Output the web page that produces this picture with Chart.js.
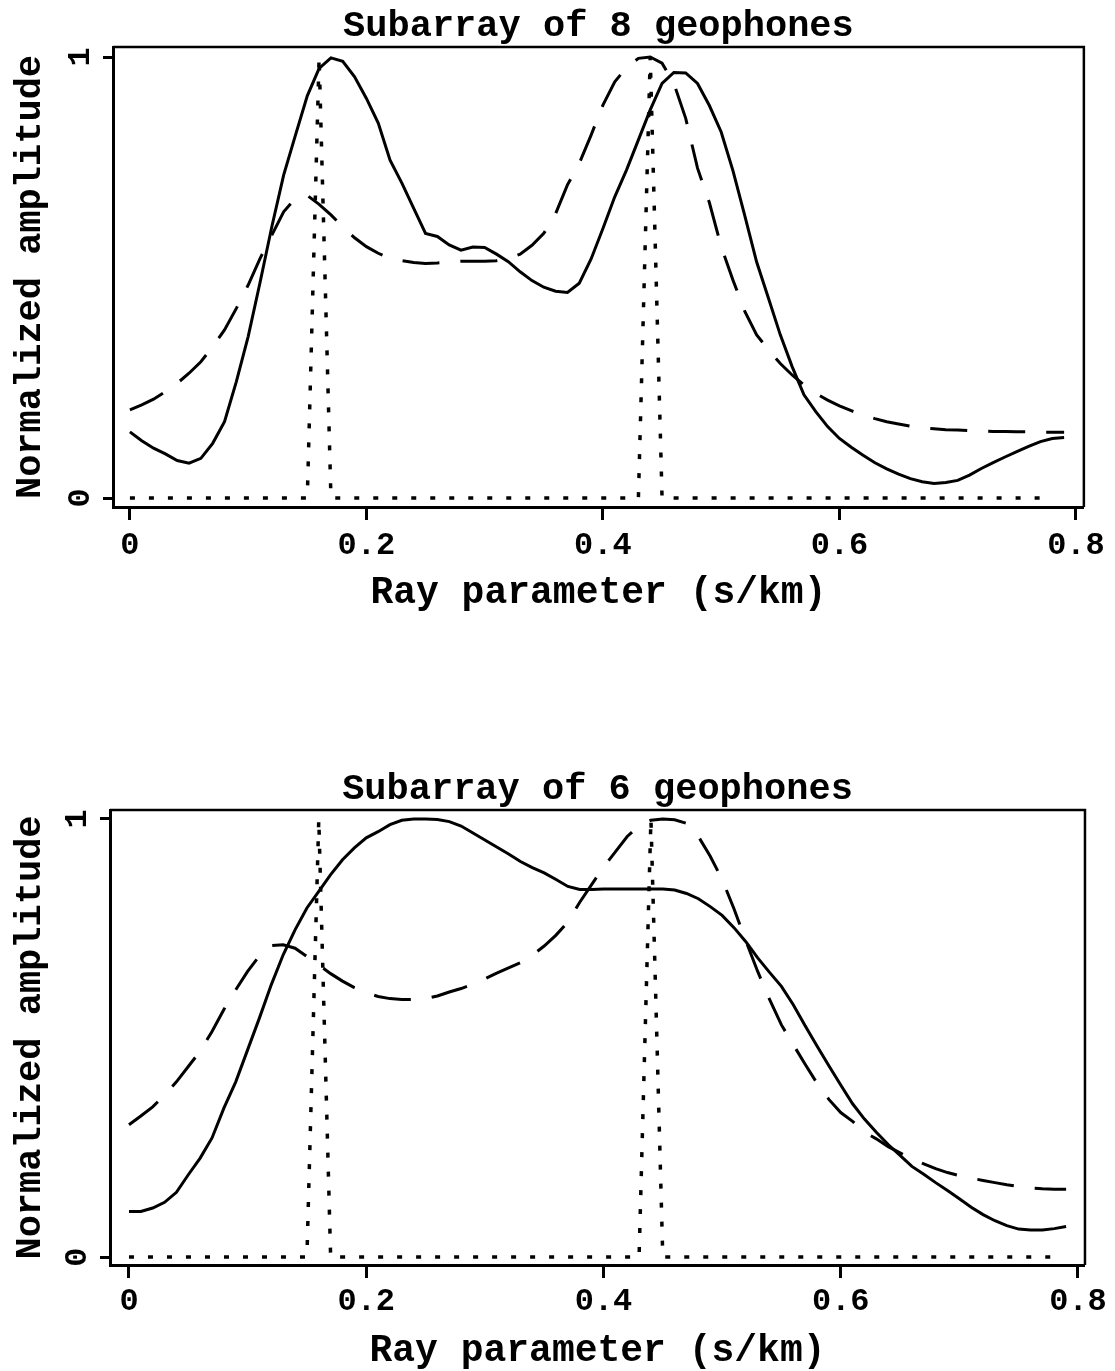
<!DOCTYPE html>
<html>
<head>
<meta charset="utf-8">
<title>Subarray beam response</title>
<script src="https://cdn.jsdelivr.net/npm/chart.js@4.4.1/dist/chart.umd.min.js"></script>
<style>
  html, body { margin: 0; padding: 0; background: #fff; overflow: hidden; }
  body { width: 1115px; height: 1371px; position: relative; }
  canvas { position: absolute; left: 0; }
</style>
</head>
<body>
<canvas id="chart8" width="1115" height="620" style="top:0px"></canvas>
<canvas id="chart6" width="1115" height="608" style="top:763px"></canvas>
<script>
// ray parameter samples (s/km)
const rayParam = [
  0.00, 0.01, 0.02, 0.03, 0.04, 0.05, 0.06, 0.07, 0.08, 0.09,
  0.10, 0.11, 0.12, 0.13, 0.14, 0.15, 0.16, 0.17, 0.18, 0.19,
  0.20, 0.21, 0.22, 0.23, 0.24, 0.25, 0.26, 0.27, 0.28, 0.29,
  0.30, 0.31, 0.32, 0.33, 0.34, 0.35, 0.36, 0.37, 0.38, 0.39,
  0.40, 0.41, 0.42, 0.43, 0.44, 0.45, 0.46, 0.47, 0.48, 0.49,
  0.50, 0.51, 0.52, 0.53, 0.54, 0.55, 0.56, 0.57, 0.58, 0.59,
  0.60, 0.61, 0.62, 0.63, 0.64, 0.65, 0.66, 0.67, 0.68, 0.69,
  0.70, 0.71, 0.72, 0.73, 0.74, 0.75, 0.76, 0.77, 0.78, 0.79
];

// subarray of 8 geophones
const amp8Solid = [
  0.150, 0.130, 0.113, 0.100, 0.085, 0.079, 0.090, 0.124, 0.173, 0.264,
  0.366, 0.488, 0.615, 0.732, 0.823, 0.912, 0.974, 0.998, 0.990, 0.955,
  0.906, 0.850, 0.766, 0.714, 0.657, 0.600, 0.593, 0.574, 0.562, 0.569,
  0.568, 0.553, 0.536, 0.513, 0.493, 0.478, 0.469, 0.466, 0.487, 0.542,
  0.611, 0.683, 0.744, 0.812, 0.880, 0.940, 0.965, 0.964, 0.940, 0.890,
  0.830, 0.742, 0.640, 0.535, 0.453, 0.370, 0.298, 0.234, 0.196, 0.162,
  0.135, 0.115, 0.097, 0.080, 0.066, 0.054, 0.044, 0.037, 0.033, 0.035,
  0.040, 0.052, 0.067, 0.080, 0.093, 0.105, 0.117, 0.128, 0.135, 0.137
];
const amp8Dashed = [
  0.200, 0.211, 0.224, 0.241, 0.260, 0.283, 0.309, 0.343, 0.381, 0.430,
  0.483, 0.543, 0.596, 0.649, 0.680, 0.686, 0.666, 0.642, 0.615, 0.590,
  0.570, 0.555, 0.543, 0.538, 0.534, 0.532, 0.533, 0.535, 0.537, 0.537,
  0.537, 0.538, 0.543, 0.553, 0.573, 0.600, 0.645, 0.710, 0.759, 0.823,
  0.891, 0.944, 0.976, 0.997, 1.000, 0.986, 0.940, 0.861, 0.748, 0.670,
  0.570, 0.494, 0.423, 0.370, 0.336, 0.305, 0.279, 0.256, 0.237, 0.222,
  0.209, 0.198, 0.188, 0.180, 0.173, 0.168, 0.163, 0.159, 0.157, 0.155,
  0.154, 0.153, 0.152, 0.151, 0.151, 0.150, 0.150, 0.149, 0.149, 0.149
];

// subarray of 6 geophones
const amp6Solid = [
  0.104, 0.104, 0.112, 0.125, 0.148, 0.188, 0.226, 0.272, 0.340, 0.400,
  0.473, 0.546, 0.622, 0.690, 0.747, 0.797, 0.835, 0.873, 0.907, 0.934,
  0.957, 0.971, 0.987, 0.997, 1.000, 1.000, 0.999, 0.994, 0.984, 0.968,
  0.952, 0.936, 0.920, 0.903, 0.889, 0.877, 0.862, 0.846, 0.839, 0.839,
  0.840, 0.840, 0.840, 0.840, 0.840, 0.840, 0.838, 0.830, 0.818, 0.800,
  0.780, 0.752, 0.720, 0.683, 0.650, 0.618, 0.576, 0.528, 0.482, 0.437,
  0.393, 0.350, 0.315, 0.285, 0.257, 0.232, 0.207, 0.189, 0.170, 0.152,
  0.133, 0.114, 0.097, 0.083, 0.072, 0.064, 0.062, 0.062, 0.065, 0.070
];
const amp6Dashed = [
  0.302, 0.322, 0.343, 0.370, 0.400, 0.435, 0.470, 0.515, 0.565, 0.610,
  0.652, 0.688, 0.711, 0.713, 0.705, 0.686, 0.667, 0.647, 0.630, 0.615,
  0.603, 0.595, 0.590, 0.588, 0.588, 0.590, 0.596, 0.605, 0.613, 0.623,
  0.635, 0.648, 0.660, 0.672, 0.689, 0.710, 0.735, 0.765, 0.810, 0.850,
  0.890, 0.925, 0.960, 0.985, 0.997, 1.000, 0.998, 0.990, 0.960, 0.915,
  0.862, 0.795, 0.722, 0.652, 0.588, 0.530, 0.485, 0.440, 0.397, 0.360,
  0.330, 0.310, 0.285, 0.270, 0.252, 0.238, 0.224, 0.213, 0.202, 0.193,
  0.186, 0.180, 0.175, 0.170, 0.165, 0.161, 0.158, 0.156, 0.155, 0.155
];

// dotted reference (true slownesses), same in both panels
const spikeX = [0.00, 0.15, 0.16, 0.17, 0.43, 0.44, 0.45, 0.78];
const spikeY = [0, 0, 1, 0, 0, 1, 0, 0];

const xTicks = [0, 0.2, 0.4, 0.6, 0.8];
const xTickLabels = ['0', '0.2', '0.4', '0.6', '0.8'];
const yTicks = [0, 1];
const yTickLabels = ['0', '1'];
const xTitle = 'Ray parameter (s/km)';
const yTitle = 'Normalized amplitude';

const FONT = "'Liberation Mono', 'Courier New', monospace";

function toPoints(xs, ys) {
  return xs.map((x, i) => ({ x: x, y: ys[i] }));
}

// top/right frame lines + rotated y tick labels
const framePlugin = {
  id: 'frame',
  afterDraw(chart) {
    const { ctx, chartArea: a } = chart;
    const yScale = chart.scales.y;
    ctx.save();
    ctx.strokeStyle = '#000';
    ctx.lineWidth = 2.5;
    ctx.beginPath();
    ctx.moveTo(a.left, a.top);
    ctx.lineTo(a.right, a.top);
    ctx.lineTo(a.right, a.bottom);
    ctx.stroke();

    ctx.fillStyle = '#000';
    ctx.font = 'bold 32px ' + FONT;
    ctx.textAlign = 'center';
    ctx.textBaseline = 'middle';
    yTicks.forEach((v, i) => {
      ctx.save();
      ctx.translate(a.left - 32, yScale.getPixelForValue(v));
      ctx.rotate(-Math.PI / 2);
      ctx.fillText(yTickLabels[i], 0, 0);
      ctx.restore();
    });
    ctx.restore();
  }
};

function drawPanel(id, title, solid, dashed, box) {
  const canvas = document.getElementById(id);
  const H = canvas.height;

  return new Chart(canvas, {
    type: 'line',
    data: {
      datasets: [
        {
          data: toPoints(rayParam, solid),
          borderColor: '#000',
          borderWidth: 3,
          pointRadius: 0,
          tension: 0
        },
        {
          data: toPoints(rayParam, dashed),
          borderColor: '#000',
          borderWidth: 3,
          borderDash: [37, 21],
          pointRadius: 0,
          tension: 0
        },
        {
          data: toPoints(spikeX, spikeY),
          borderColor: '#000',
          borderWidth: 3.5,
          borderDash: [5, 14],
          pointRadius: 0,
          tension: 0
        }
      ]
    },
    options: {
      responsive: false,
      animation: false,
      events: [],
      layout: { padding: { left: 0, right: canvas.width - box.right, top: 0, bottom: 0 } },
      plugins: {
        legend: { display: false },
        tooltip: { enabled: false },
        title: {
          display: true,
          text: title,
          fullSize: false,
          color: '#000',
          font: { family: FONT, size: 37, weight: 'bold', lineHeight: 1 },
          padding: { top: box.top - 39, bottom: 2 }
        }
      },
      scales: {
        x: {
          type: 'linear',
          min: box.xMin,
          max: box.xMax,
          afterBuildTicks: s => { s.ticks = xTicks.map(v => ({ value: v })); },
          afterFit: s => { s.height = H - box.bottom; },
          grid: { drawOnChartArea: false, drawTicks: true, tickLength: 13, tickWidth: 3, tickColor: '#000' },
          border: { display: true, color: '#000', width: 3 },
          ticks: {
            color: '#000',
            padding: box.tickPad,
            maxRotation: 0,
            font: { family: FONT, size: 32, weight: 'bold', lineHeight: 1 },
            callback: (v, i) => xTickLabels[i]
          },
          title: {
            display: true,
            text: xTitle,
            color: '#000',
            font: { family: FONT, size: 38, weight: 'bold', lineHeight: 1 },
            padding: { top: 0, bottom: H - box.titleMid - 19 }
          }
        },
        y: {
          type: 'linear',
          min: box.yMin,
          max: box.yMax,
          afterBuildTicks: s => { s.ticks = yTicks.map(v => ({ value: v })); },
          afterFit: s => { s.width = box.left; },
          grid: { drawOnChartArea: false, drawTicks: true, tickLength: 10, tickWidth: 3, tickColor: '#000' },
          border: { display: true, color: '#000', width: 3 },
          ticks: { display: false },
          title: {
            display: true,
            text: yTitle,
            color: '#000',
            font: { family: FONT, size: 37, weight: 'bold', lineHeight: 1 },
            padding: { top: 12.5, bottom: 0 }
          }
        }
      }
    },
    plugins: [framePlugin]
  });
}

drawPanel('chart8', 'Subarray of 8 geophones', amp8Solid, amp8Dashed,
  { left: 113, right: 1088, top: 47, bottom: 507, xMin: -0.0143, xMax: 0.8067, yMin: -0.0204, yMax: 1.0227,
    tickPad: 10, titleMid: 593 });

drawPanel('chart6', 'Subarray of 6 geophones', amp6Solid, amp6Dashed,
  { left: 110, right: 1087, top: 47, bottom: 502, xMin: -0.016, xMax: 0.8059, yMin: -0.018, yMax: 1.0205,
    tickPad: 8, titleMid: 588 });
</script>
</body>
</html>
